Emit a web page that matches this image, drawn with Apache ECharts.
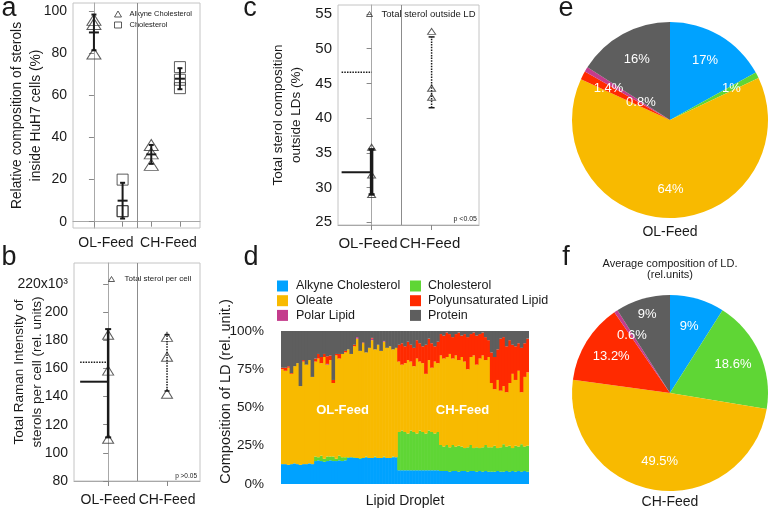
<!DOCTYPE html>
<html><head><meta charset="utf-8">
<script src="https://cdn.jsdelivr.net/npm/echarts@6.0.0/dist/echarts.min.js"></script>
<style>html,body{margin:0;padding:0;background:#fff;}#chart{width:768px;height:509px;}</style>
</head><body><div id="chart"></div>
<script>
// ================= DATA =================
const groups = ['OL-Feed', 'CH-Feed'];

// panel a : relative composition of sterols inside HuH7 cells (%)
// x: 0 = OL alkyne, 1 = OL cholesterol, 2 = CH alkyne, 3 = CH cholesterol
const aAlkyne = [[0, 96], [0, 94], [0, 80], [2, 36.5], [2, 32.5], [2, 27]];
const aChol = [[1, 20], [1, 5], [1, 5], [3, 73.5], [3, 67.5], [3, 63.5]];
const aErr = [[0, 90, 81.5, 98.5], [1, 10, 1.5, 18.5], [2, 32, 27.5, 36.5], [3, 68, 63, 73]]; // [x, mean, low, high]
const aTicks = [0, 20, 40, 60, 80, 100];

// panel b : total Raman intensity of sterols per cell (x10^3)
const bPoints = [[0, 184], [0, 158.5], [0, 110], [1, 182.5], [1, 168.3], [1, 142]];
const bErrOL = [[0, 150.6, 111, 188]];
const bErrCH = [[1, 164.5, 144, 184]];
const bMeans = [[0, 150.6], [0, 164.5]]; // OL mean, CH mean (both drawn at OL position)
const bTicks = [80, 100, 120, 140, 160, 180, 200, 220];

// panel c : total sterol composition outside LDs (%)
const cPoints = [[0, 35.8], [0, 31.8], [0, 29], [1, 52.5], [1, 44.3], [1, 43]];
const cErrOL = [[0, 32.2, 29, 35.5]];
const cErrCH = [[1, 46.6, 41.5, 51.7]];
const cMeans = [[0, 32.2], [0, 46.6]];
const cTicks = [25, 30, 35, 40, 45, 50, 55];

// panel d : composition of each lipid droplet (%), 39 OL-Feed droplets then 44 CH-Feed droplets
const dAlkyne = [13,13,12.5,13,13.5,13,12.5,13,13,13.5,13, 15,15.5,15,14.5,15,15.5,15,15,15.5,15,15.5,
  17,17.5,17,17,16.5,17,17.5,17,17,17.5,17,17,17.5,17,17,17.5,17.5,
  9,9,9,9,9,9,9,9,9,9,9,9,9,9, 8.5,8.5,8.5,8,8.5,8.5,8,8.5,8.5,8,8.5,8.5,8,8.5,8,8.5,8,
  8,8,8.5,8,8,8.5,8,8.5,8,8.5,8,8.5,8];
const dChol = [0,0,0,0,0,0,0,0,0,0,0, 3,2,3.5,2,3,2.5,3,1.5,3,2.5,2,
  0.5,0,0.5,0,0.5,0,0.5,0,0,0.5,0,0,0.5,0,0,0.5,0,
  25,26,25,24,26,25,24,26,25,24,26,25,24,25, 17,16,17,16,17,16,17,16,15,16,17,15,16,15,16,17,16,
  16,17,15,16,18,16,17,15,17,16,18,16,17];
const dOleate = [62,61,63.5,59,63.5,66,51.5,67,65,67.5,57, 62,64.5,60.5,66.5,60,63,48,67.5,63.5,67.5,68.5,
  70.5,67.5,72.5,78,70,75,68,72,77,70,74,70,75,72,73,70,71.5,
  46,43,45,48,45,43,49,45,45,39,46,42,47,45, 58.5,57.5,57.5,61,56.5,59.5,56,58.5,56.5,51,57.5,60.5,54,58.5,60,55.5,59,
  42,37,44.5,37,38,35.5,41,48.5,43,49.5,34,45.5,48];
const dPolar = [0,0,0,0,0,0,0,0,0,0,0, 0,0,0,0,0.5,0,0,0,0,0,0,
  0,0,0,1,0,0,0,0,1,0,0,0,0.5,0,0,0,0,
  0,0,0,0,0,0,0,0,0,0,0,0,0,0, 0,0,0,0,0,0,0,0,0,0,0,0,0,0,0,0,0,
  0,0,0,0,0,0,0,0,0,0,0,0,0];
const dPufa = [1,2,1,0.5,0,0,0,1,0,0,0, 2,3,4,2,5,3,2,1,3,0,1,
  0,0,1,0,0,0.5,0,0,0.5,0,0,0,0,0,0,0,0,
  11,14,11,12,11,12,12,12,11,19,14,16,10,14, 14,15,16,13,14,14,18,14,18,21,15,15,19,16,15,15,11,
  20,21,20,34,32,30,28,19,22,18,29,22,22];
const dProtein = [24,24,23,27.5,23,21,36,19,22,19,30, 18,15,17,15,16.5,16,32,15,15,15,13,
  12,15,9,4,13,7.5,14,11,4.5,12,9,13,6.5,11,10,12,11,
  9,8,10,7,9,11,6,8,10,9,5,8,10,7, 2,3,1,2,4,2,1,3,2,4,2,1,3,2,1,4,6,
  14,17,12,5,4,10,6,9,10,8,11,8,5];
const dCats = dAlkyne.map((_, i) => 'LD ' + (i + 1));

// panels e, f : average composition of LD (rel. units, %)
const pieNames = ['Alkyne Cholesterol', 'Cholesterol', 'Oleate', 'Polyunsaturated Lipid', 'Polar Lipid', 'Protein'];
const eValues = [17, 1, 64, 1.4, 0.8, 16];
const fValues = [9, 18.6, 49.5, 13.2, 0.6, 9];

// ================= STYLE =================
const FONT = 'Liberation Sans';
const COLORS = {
  'Alkyne Cholesterol': '#00a2ff', 'Cholesterol': '#5fd635', 'Oleate': '#f8ba00',
  'Polyunsaturated Lipid': '#ff2a00', 'Polar Lipid': '#c43c8c', 'Protein': '#5e5e5e'
};
const INK = '#1a1a1a';
const FRAME = '#c4c4c4';

function gridBox(left, top, width, height, frame) {
  return { left, top, width, height, show: !!frame, borderColor: FRAME, borderWidth: 1,
    backgroundColor: 'transparent', containLabel: false, outerBoundsMode: 'none' };
}
function yAxisFor(gi, min, max, ticks, name, nameGap, nameSize, fmt, labelSize) {
  return { type: 'value', gridIndex: gi, min, max,
    axisLine: { show: true, lineStyle: { color: '#a8a8a8', width: 1 } },
    axisTick: { show: true, customValues: ticks, length: 5, inside: false, lineStyle: { color: '#888' } },
    axisLabel: { customValues: ticks, fontSize: labelSize || 14, color: INK, margin: 6, fontFamily: FONT, formatter: fmt },
    splitLine: { show: false },
    name, nameLocation: 'middle', nameGap, nameRotate: 90, nameMoveOverlap: false,
    nameTextStyle: { fontSize: nameSize, lineHeight: 18.5, color: INK, fontFamily: FONT } };
}
function xAxisFor(gi, min, max, tickVals, labelVals, divider, margin, labelSize) {
  return { type: 'value', gridIndex: gi, min, max,
    axisLine: { show: true, lineStyle: { color: '#a8a8a8', width: 1 } },
    axisTick: { show: true, customValues: tickVals, length: 5, lineStyle: { color: '#888' } },
    axisLabel: { customValues: labelVals, fontSize: labelSize || 14, color: INK, margin, fontFamily: FONT,
      formatter: v => (v < divider ? groups[0] : groups[1]) },
    splitLine: { show: false } };
}
function dividerLine(value) {
  return { silent: true, symbol: 'none', animation: false, label: { show: false },
    lineStyle: { color: '#8c8c8c', width: 1, type: 'solid' }, data: [{ xAxis: value }] };
}
function errSeries(name, gi, data, o) {
  return { type: 'custom', name, xAxisIndex: gi, yAxisIndex: gi, data, silent: true, z: 4,
    renderItem(params, api) {
      const x = api.value(0), m = api.value(1), lo = api.value(2), hi = api.value(3);
      const a = api.coord([x, lo]), b = api.coord([x, hi]), c = api.coord([x, m]);
      const st = { stroke: INK, lineWidth: o.w, lineDash: o.dash || null, fill: null };
      const cs = { stroke: INK, lineWidth: o.capW || 2, fill: null };
      const ch = [
        { type: 'line', shape: { x1: a[0], y1: a[1], x2: b[0], y2: b[1] }, style: st },
        { type: 'line', shape: { x1: a[0] - o.cap, y1: a[1], x2: a[0] + o.cap, y2: a[1] }, style: cs },
        { type: 'line', shape: { x1: b[0] - o.cap, y1: b[1], x2: b[0] + o.cap, y2: b[1] }, style: cs }
      ];
      if (o.mean) ch.push({ type: 'line', shape: { x1: c[0] - o.mean, y1: c[1], x2: c[0] + o.mean, y2: c[1] },
        style: { stroke: INK, lineWidth: 2 } });
      return { type: 'group', children: ch };
    } };
}
function meanSeries(name, gi, data, len) {
  return { type: 'custom', name, xAxisIndex: gi, yAxisIndex: gi, data, silent: true, z: 4,
    renderItem(params, api) {
      const p = api.coord([api.value(0), api.value(1)]);
      const solid = params.dataIndex === 0;
      return { type: 'line', shape: { x1: p[0] - len, y1: p[1], x2: p[0], y2: p[1] },
        style: { stroke: INK, lineWidth: solid ? 2 : 1.5, lineDash: solid ? null : [1.5, 1.2] } };
    } };
}
function hollow() {
  return { color: 'rgba(255,255,255,0)', borderColor: '#333', borderWidth: 1 };
}
function barSeries(name, data) {
  return { type: 'bar', name, data, stack: 'ld', xAxisIndex: 3, yAxisIndex: 3, barWidth: 3.6,
    itemStyle: { color: COLORS[name], borderWidth: 0 }, silent: true, large: false };
}
function pieData(vals, transparent, showIdx) {
  return pieNames.map((n, i) => ({ name: n, value: vals[i],
    itemStyle: { color: transparent ? 'rgba(0,0,0,0)' : COLORS[n] },
    label: { show: showIdx ? showIdx.indexOf(i) >= 0 : false } }));
}
function pieSeries(center, radius, vals, transparent, showIdx) {
  return { type: 'pie', center, radius, startAngle: 90, clockwise: true, silent: true,
    data: pieData(vals, transparent, showIdx),
    label: { position: 'inside', formatter: '{c}%', color: '#fff', fontSize: 13, fontFamily: FONT,
      textBorderWidth: 0 },
    labelLine: { show: false }, emphasis: { disabled: true }, z: transparent ? 3 : 2 };
}
function txt(x, y, text, size, opts) {
  opts = opts || {};
  return { type: 'text', x, y, z: 100, silent: true,
    style: { text, fontSize: size, fontFamily: FONT, fill: opts.fill || INK, fontWeight: opts.bold ? 'bold' : 'normal',
      align: opts.align || 'center', verticalAlign: 'middle',
      textAlign: opts.align || 'center', textVerticalAlign: 'middle' } };
}

const option = {
  animation: false,
  textStyle: { fontFamily: FONT },
  grid: [
    gridBox(73, 3, 127, 225, true),
    gridBox(74, 263, 126, 218, true),
    gridBox(338, 5, 141, 220, true),
    gridBox(281, 331, 248, 153, false)
  ],
  xAxis: [
    xAxisFor(0, -0.73, 3.7, [0, 1, 2, 3], [0.42, 2.6], 1.5, 8),
    xAxisFor(1, -0.58, 1.56, [0, 1], [0, 1], 0.5, 12),
    xAxisFor(2, -0.56, 1.79, [0, 1], [-0.06, 0.97], 0.5, 11, 15),
    { type: 'category', gridIndex: 3, data: dCats, axisLine: { show: false }, axisTick: { show: false },
      axisLabel: { show: false }, splitLine: { show: false },
      name: 'Lipid Droplet', nameLocation: 'middle', nameGap: 10,
      nameTextStyle: { fontSize: 14, color: INK, fontFamily: FONT } }
  ],
  yAxis: [
    yAxisFor(0, -3, 104, aTicks, 'Relative composition of sterols\ninside HuH7 cells (%)', 28, 13.8),
    yAxisFor(1, 80, 235, bTicks, 'Total Raman Intensity of\nsterols per cell (rel. units)', 27, 13.5,
      v => (v === 220 ? '220x10³' : String(v))),
    yAxisFor(2, 24.6, 56.3, cTicks, 'Total sterol composition\noutside LDs (%)', 32, 13.5, undefined, 15),
    { type: 'value', gridIndex: 3, min: 0, max: 100, interval: 25,
      axisLine: { show: false }, axisTick: { show: false }, splitLine: { show: false },
      axisLabel: { formatter: '{value}%', fontSize: 13.5, color: INK, margin: 17, fontFamily: FONT },
      name: 'Composition of LD (rel. unit.)', nameLocation: 'middle', nameGap: 48, nameRotate: 90, nameMoveOverlap: false,
      nameTextStyle: { fontSize: 14.5, color: INK, fontFamily: FONT, padding: [0, 0, 0, 32] } }
  ],
  legend: [
    { left: 114, top: 10, orient: 'vertical', padding: 0, itemWidth: 7, itemHeight: 6, itemGap: 3,
      textStyle: { fontSize: 7.5, lineHeight: 7, color: INK, padding: [0, 0, 0, 3] }, selectedMode: false,
      data: [{ name: 'Alkyne Cholesterol ', icon: 'triangle', itemStyle: hollow() },
             { name: 'Cholesterol ', icon: 'rect', itemStyle: hollow() }] },
    { left: 108, top: 275, orient: 'vertical', padding: 0, itemWidth: 6, itemHeight: 5,
      textStyle: { fontSize: 8, color: INK, padding: [0, 0, 0, 5] }, selectedMode: false,
      data: [{ name: 'Total sterol per cell', icon: 'triangle', itemStyle: hollow() }] },
    { left: 366, top: 9, orient: 'vertical', padding: 0, itemWidth: 6, itemHeight: 5,
      textStyle: { fontSize: 9.5, color: INK, padding: [0, 0, 0, 4] }, selectedMode: false,
      data: [{ name: 'Total sterol outside LD', icon: 'triangle', itemStyle: hollow() }] },
    { left: 277, top: 279.5, orient: 'vertical', padding: 0, itemWidth: 11, itemHeight: 11, itemGap: 1.7,
      textStyle: { fontSize: 12.5, lineHeight: 13, color: INK, padding: [0, 0, 0, 3] }, selectedMode: false, icon: 'rect',
      data: ['Alkyne Cholesterol', 'Oleate', 'Polar Lipid'] },
    { left: 410, top: 279.5, orient: 'vertical', padding: 0, itemWidth: 11, itemHeight: 11, itemGap: 1.7,
      textStyle: { fontSize: 12.5, lineHeight: 13, color: INK, padding: [0, 0, 0, 2] }, selectedMode: false, icon: 'rect',
      data: ['Cholesterol', 'Polyunsaturated Lipid', 'Protein'] }
  ],
  series: [
    barSeries('Alkyne Cholesterol', dAlkyne),
    barSeries('Cholesterol', dChol),
    barSeries('Oleate', dOleate),
    barSeries('Polar Lipid', dPolar),
    barSeries('Polyunsaturated Lipid', dPufa),
    barSeries('Protein', dProtein),

    { type: 'scatter', name: 'Alkyne Cholesterol ', xAxisIndex: 0, yAxisIndex: 0, data: aAlkyne,
      symbol: 'triangle', symbolSize: [14, 11], itemStyle: hollow(), silent: true, z: 3,
      markLine: dividerLine(1.5) },
    { type: 'scatter', name: 'Cholesterol ', xAxisIndex: 0, yAxisIndex: 0, data: aChol,
      symbol: 'rect', symbolSize: [11, 11], itemStyle: hollow(), silent: true, z: 3 },
    errSeries('aErr', 0, aErr, { w: 2, cap: 2.5, mean: 5 }),

    { type: 'scatter', name: 'Total sterol per cell', xAxisIndex: 1, yAxisIndex: 1, data: bPoints,
      symbol: 'triangle', symbolSize: [11, 9], itemStyle: hollow(), silent: true, z: 3,
      markLine: dividerLine(0.5) },
    errSeries('bErrOL', 1, bErrOL, { w: 2.5, cap: 3 }),
    errSeries('bErrCH', 1, bErrCH, { w: 1.5, cap: 2.5, dash: [1.5, 1.2], capW: 1.5 }),
    meanSeries('bMeans', 1, bMeans, 28),

    { type: 'scatter', name: 'Total sterol outside LD', xAxisIndex: 2, yAxisIndex: 2, data: cPoints,
      symbol: 'triangle', symbolSize: [8, 6], itemStyle: hollow(), silent: true, z: 3,
      markLine: dividerLine(0.5) },
    errSeries('cErrOL', 2, cErrOL, { w: 3.5, cap: 3, capW: 2.5 }),
    errSeries('cErrCH', 2, cErrCH, { w: 1.5, cap: 3, dash: [1.5, 1.2], capW: 1.5 }),
    meanSeries('cMeans', 2, cMeans, 30),

    pieSeries([670, 120], [0, 98], eValues, false, null),
    pieSeries([670, 120], [34, 98], eValues, true, [0, 1, 2, 3, 5]),
    pieSeries([670, 120], [0, 62], eValues, true, [4]),
    pieSeries([670, 393], [0, 98], fValues, false, null),
    pieSeries([670, 393], [34, 98], fValues, true, [0, 1, 2, 3, 4]),
    pieSeries([670, 393], [60, 98], fValues, true, [5])
  ],
  graphic: [
    txt(9, 9, 'a', 27),
    txt(9, 258, 'b', 27),
    txt(250, 9, 'c', 27),
    txt(251, 258, 'd', 27),
    txt(566, 9, 'e', 27),
    txt(566, 258, 'f', 27),
    txt(670, 232, 'OL-Feed', 14),
    txt(670, 263.5, 'Average composition of LD.', 11),
    txt(670, 275, '(rel.units)', 11),
    txt(670, 502, 'CH-Feed', 14),
    txt(342.5, 410, 'OL-Feed', 13, { bold: true, fill: '#fff' }),
    txt(462.5, 410, 'CH-Feed', 13, { bold: true, fill: '#fff' }),
    txt(197, 476, 'p >0.05', 6.5, { align: 'right' }),
    txt(477, 219, 'p <0.05', 7, { align: 'right' })
  ]
};
const chart = echarts.init(document.getElementById('chart'), null, { renderer: 'canvas' });
chart.setOption(option);
</script>
</body></html>
